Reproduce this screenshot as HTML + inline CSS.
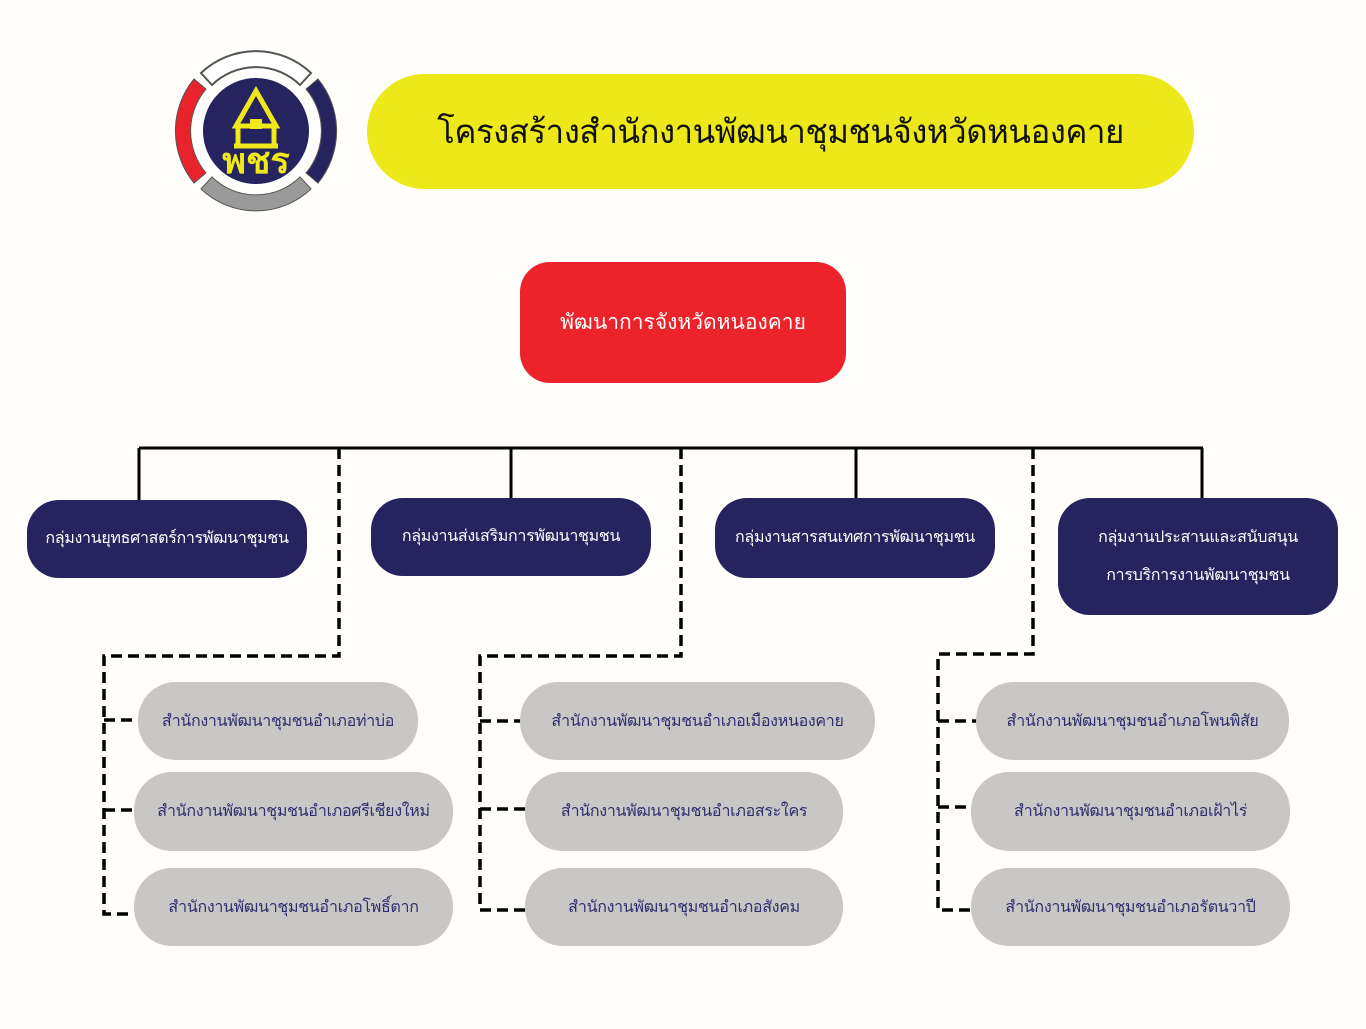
<!DOCTYPE html>
<html><head><meta charset="utf-8"><style>
body{margin:0;width:1366px;height:1029px;background:#fffefb;position:relative;overflow:hidden;font-family:"Liberation Sans","DejaVu Sans",sans-serif}
.b{position:absolute;display:flex;align-items:center;justify-content:center;text-align:center;box-sizing:border-box;white-space:nowrap}
.n{background:#25245e;color:#fff;border-radius:32px;font-size:16px;line-height:38px;letter-spacing:-0.3px}
.g{background:#c8c7c6;color:#2e2e6e;border-radius:38px;font-size:16px;letter-spacing:-0.3px}
</style></head><body>
<svg width="1366" height="1029" style="position:absolute;left:0;top:0">
<g transform="translate(256,131)">
<path d="M-55,-58 A80,80 0 0 1 55,-58 L44,-46 A63,63 0 0 0 -44,-46Z" fill="#fff" stroke="#555" stroke-width="2"/>
<path d="M-62,-52 A82,82 0 0 0 -62,52 L-50,42 A65,65 0 0 1 -50,-42Z" fill="#e8232b" stroke="#555" stroke-width="1"/>
<path d="M62,-52 A82,82 0 0 1 62,52 L50,42 A65,65 0 0 0 50,-42Z" fill="#25245e" stroke="#555" stroke-width="1"/>
<path d="M-55,58 A80,80 0 0 0 55,58 L44,46 A63,63 0 0 1 -44,46Z" fill="#9a9a9a" stroke="#555" stroke-width="1"/>
<circle r="58" fill="#fff"/><circle r="53" fill="#25245e"/>
<path d="M0,-40 L-20,-5 L20,-5Z M-18,-5 v20 M18,-5 v20 M-22,15 h44" stroke="#f0e81a" stroke-width="5" fill="none"/>
<rect x="-6" y="-12" width="12" height="10" fill="#f0e81a"/>
<text x="0" y="42" text-anchor="middle" font-size="36" font-weight="bold" fill="#f0e81a">พชร</text>
</g>
<line x1="139" y1="448" x2="1203" y2="448" stroke="#000" stroke-width="3"/>
<g stroke="#000" stroke-width="3"><line x1="139" y1="448" x2="139" y2="500"/><line x1="511" y1="448" x2="511" y2="498"/><line x1="856" y1="448" x2="856" y2="498"/><line x1="1202" y1="448" x2="1202" y2="498"/></g>
<g stroke="#000" stroke-width="3.5" fill="none" stroke-dasharray="11,6">
<path d="M339,448 V656 H104 V914 H134 M104,720 H138 M104,810 H134"/>
<path d="M681,448 V656 H480 V910 H525 M480,721 H520 M480,809 H525"/>
<path d="M1033,448 V654 H938 V910 H971 M938,721 H976 M938,807 H971"/>
</g>
</svg>
<div class="b" style="left:367px;top:74px;width:827px;height:115px;background:#ede81a;border-radius:58px;font-size:33px;color:#111;letter-spacing:-0.5px">โครงสร้างสำนักงานพัฒนาชุมชนจังหวัดหนองคาย</div>
<div class="b" style="left:520px;top:262px;width:326px;height:121px;background:#ec232b;border-radius:30px;font-size:21px;color:#fff">พัฒนาการจังหวัดหนองคาย</div>
<div class="b n" style="left:27px;top:500px;width:280px;height:78px">กลุ่มงานยุทธศาสตร์การพัฒนาชุมชน</div>
<div class="b n" style="left:371px;top:498px;width:280px;height:78px">กลุ่มงานส่งเสริมการพัฒนาชุมชน</div>
<div class="b n" style="left:715px;top:498px;width:280px;height:80px">กลุ่มงานสารสนเทศการพัฒนาชุมชน</div>
<div class="b n" style="left:1058px;top:498px;width:280px;height:117px">กลุ่มงานประสานและสนับสนุน<br>การบริการงานพัฒนาชุมชน</div>
<div class="b g" style="left:138px;top:682px;width:280px;height:78px">สำนักงานพัฒนาชุมชนอำเภอท่าบ่อ</div>
<div class="b g" style="left:134px;top:772px;width:319px;height:79px">สำนักงานพัฒนาชุมชนอำเภอศรีเชียงใหม่</div>
<div class="b g" style="left:134px;top:868px;width:319px;height:78px">สำนักงานพัฒนาชุมชนอำเภอโพธิ์ตาก</div>
<div class="b g" style="left:520px;top:682px;width:355px;height:78px">สำนักงานพัฒนาชุมชนอำเภอเมืองหนองคาย</div>
<div class="b g" style="left:525px;top:772px;width:318px;height:79px">สำนักงานพัฒนาชุมชนอำเภอสระใคร</div>
<div class="b g" style="left:525px;top:868px;width:318px;height:78px">สำนักงานพัฒนาชุมชนอำเภอสังคม</div>
<div class="b g" style="left:976px;top:682px;width:313px;height:78px">สำนักงานพัฒนาชุมชนอำเภอโพนพิสัย</div>
<div class="b g" style="left:971px;top:772px;width:319px;height:79px">สำนักงานพัฒนาชุมชนอำเภอเฝ้าไร่</div>
<div class="b g" style="left:971px;top:868px;width:319px;height:78px">สำนักงานพัฒนาชุมชนอำเภอรัตนวาปี</div>
</body></html>
